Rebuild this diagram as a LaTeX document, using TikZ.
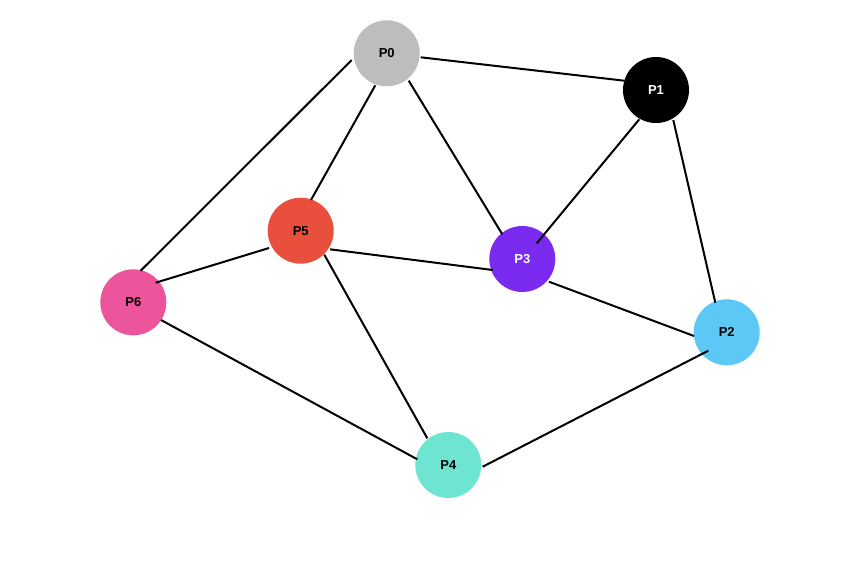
\documentclass[tikz,border=0pt]{standalone}
\usepackage{fontspec}
\setmainfont{Liberation Sans}
\usetikzlibrary{calc}
\definecolor{c0}{HTML}{BDBDBD}
\definecolor{c1}{HTML}{000000}
\definecolor{c2}{HTML}{5BC8F5}
\definecolor{c3}{HTML}{7B2BF0}
\definecolor{c4}{HTML}{6EE5D0}
\definecolor{c5}{HTML}{E94F3D}
\definecolor{c6}{HTML}{EC559C}
\begin{document}
\begin{tikzpicture}[x=1pt,y=-1pt,
  vert/.style={circle,minimum size=66pt,inner sep=0pt,font=\fontsize{13}{13}\selectfont\bfseries},
  edge/.style={line width=2pt,black}]
\useasboundingbox (0,0) rectangle (855,576);
\node[vert,fill=c0,text=black] (P0) at (386.7,53.3) {P0};
\node[vert,fill=c1,text=white] (P1) at (656,90) {P1};
\node[vert,fill=c2,text=black] (P2) at (726.7,332.3) {P2};
\node[vert,fill=c3,text=white] (P3) at (522.3,259) {P3};
\node[vert,fill=c4,text=black] (P4) at (448.3,465) {P4};
\node[vert,fill=c5,text=black] (P5) at (300.7,230.7) {P5};
\node[vert,fill=c6,text=black] (P6) at (133.3,302.3) {P6};
\draw[edge] ($(P0)+(34,4)$) -- ($(P1)+(-31.7,-9.3)$);
\draw[edge] ($(P0)+(-11.4,32)$) -- ($(P5)+(10.3,-30.7)$);
\draw[edge] ($(P0)+(22,27.4)$) -- ($(P3)+(-20,-24.7)$);
\draw[edge] ($(P0)+(-35,6.7)$) -- ($(P6)+(7.4,-31.6)$);
\draw[edge] ($(P1)+(-16.7,29.3)$) -- ($(P3)+(14.4,-15.7)$);
\draw[edge] ($(P1)+(17.3,30)$) -- ($(P2)+(-11.4,-29.6)$);
\draw[edge] ($(P5)+(-31.7,17.3)$) -- ($(P6)+(22.4,-19.6)$);
\draw[edge] ($(P5)+(29.3,18.6)$) -- ($(P3)+(-29.6,11)$);
\draw[edge] ($(P5)+(23.6,24)$) -- ($(P4)+(-21,-26.7)$);
\draw[edge] ($(P3)+(26.7,22.7)$) -- ($(P2)+(-32.7,3.7)$);
\draw[edge] ($(P6)+(27.7,17.7)$) -- ($(P4)+(-31,-5.7)$);
\draw[edge] ($(P4)+(34.4,1.7)$) -- ($(P2)+(-18.4,18.4)$);
\end{tikzpicture}
\end{document}
